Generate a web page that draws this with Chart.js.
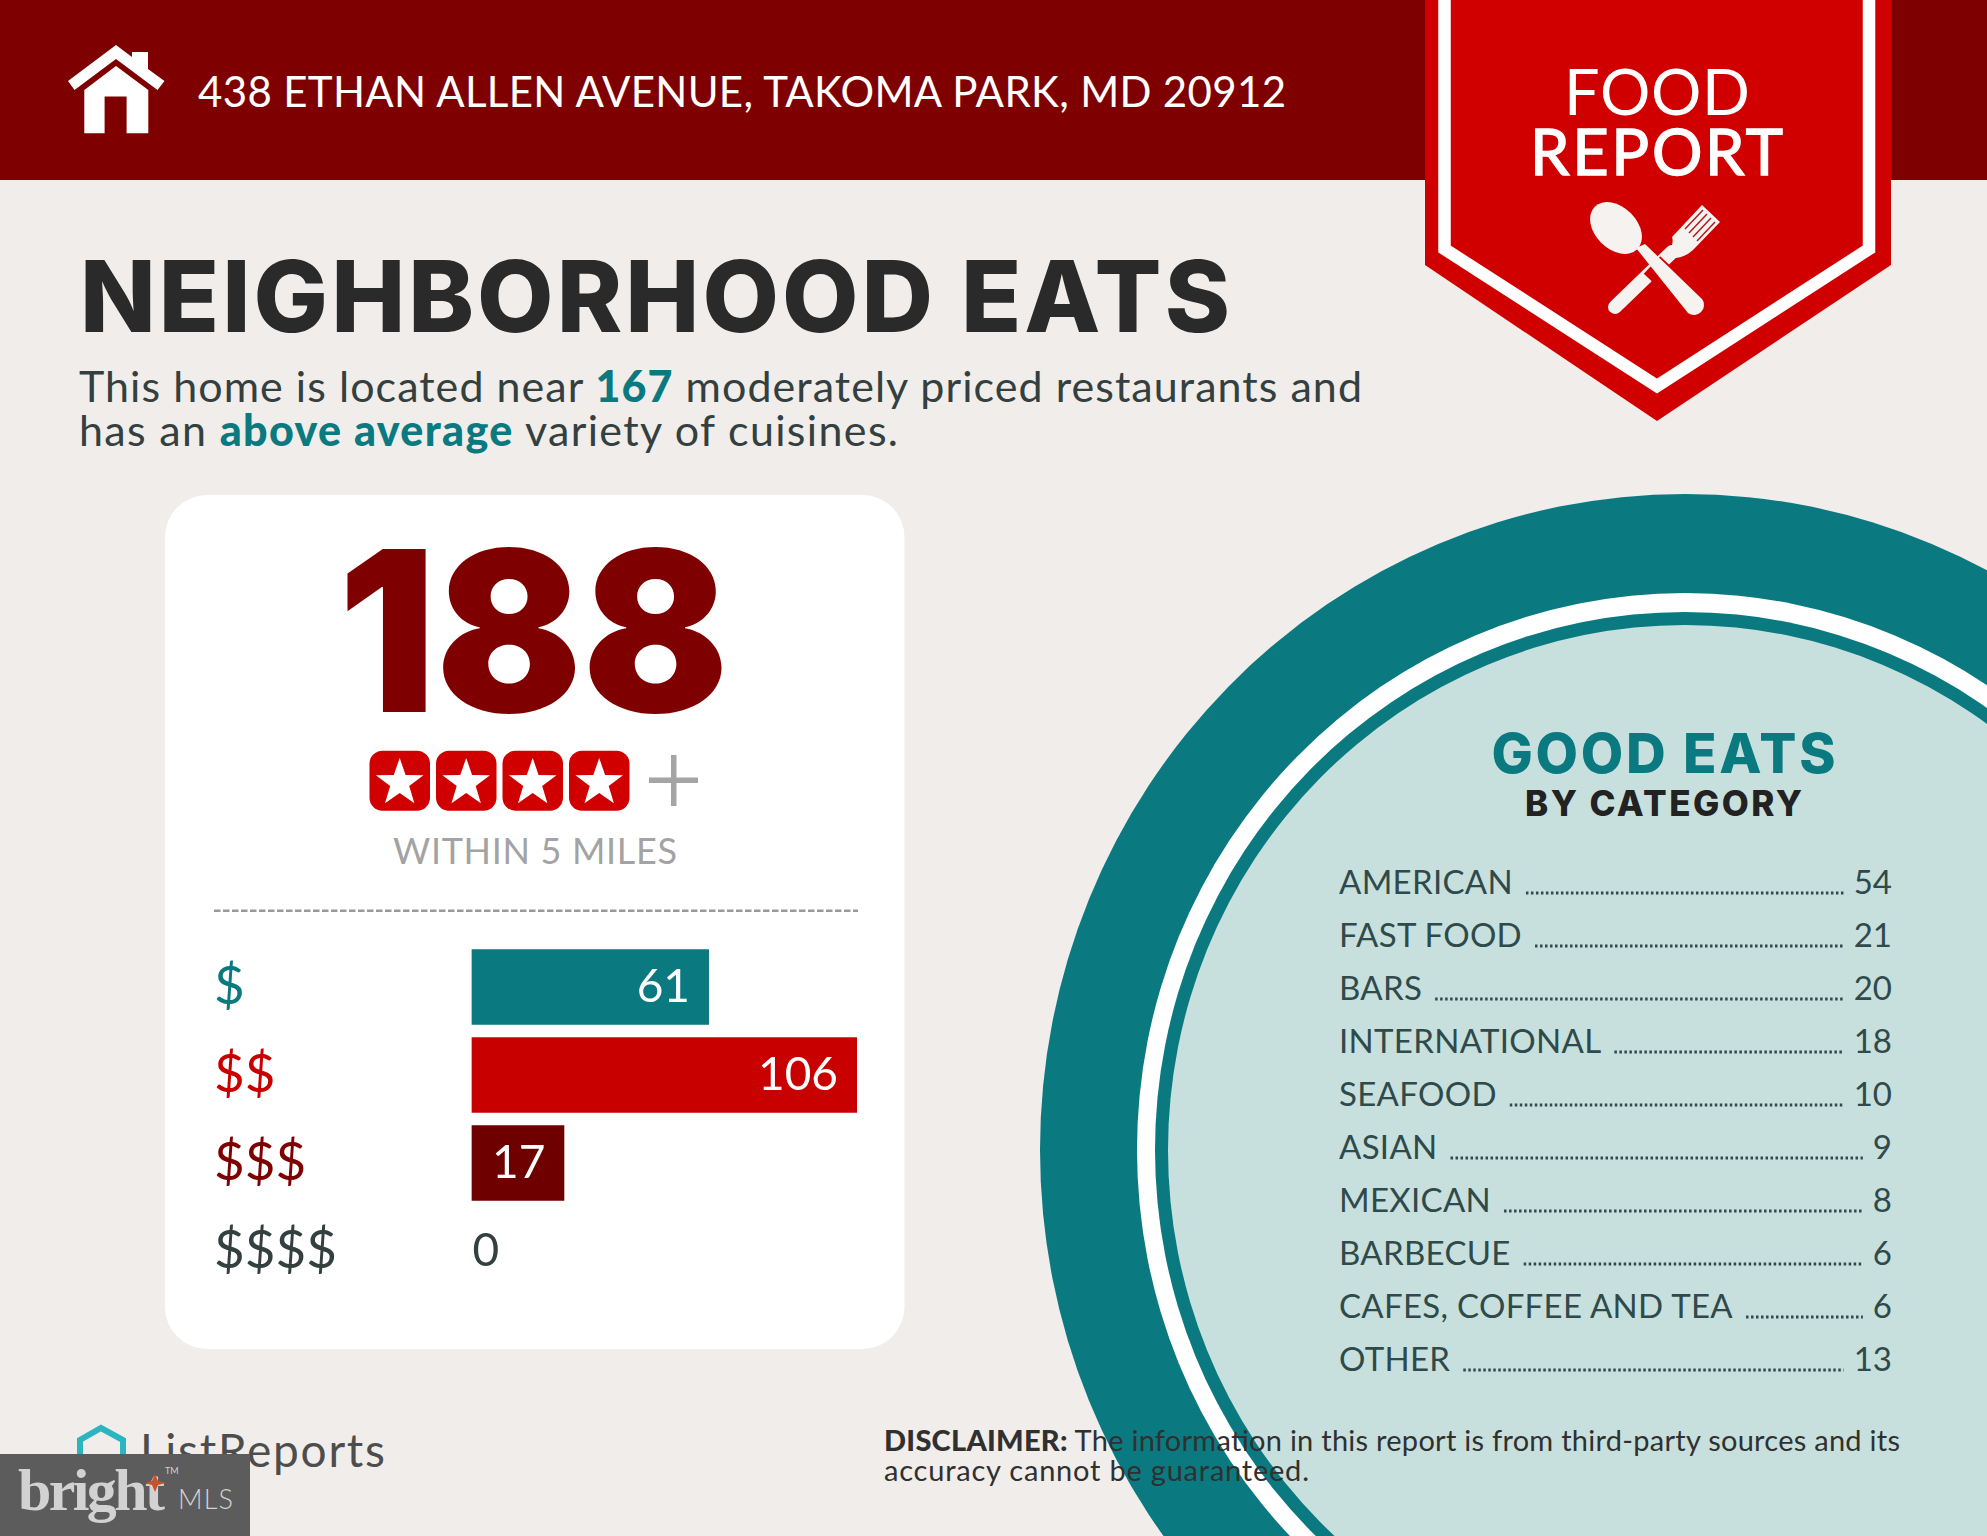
<!DOCTYPE html>
<html>
<head>
<meta charset="utf-8">
<title>Neighborhood Eats</title>
<script src="https://cdn.jsdelivr.net/npm/chart.js@4/dist/chart.umd.min.js"></script>
<style>
  html, body { margin: 0; padding: 0; background: #f1edea; }
  #page { position: relative; width: 1987px; height: 1536px; overflow: hidden; font-family: Lato, sans-serif; }
  #art { position: absolute; left: 0; top: 0; }
  #priceChart { position: absolute; left: 214px; top: 943px; }
  text { font-family: Lato, sans-serif; }
  text.heavy, tspan.heavy { font-family: Inter, Lato, sans-serif; font-weight: 800; }
</style>
</head>
<body>
<div id="page">
<svg id="art" width="1987" height="1536" viewBox="0 0 1987 1536" xmlns="http://www.w3.org/2000/svg">
  <rect width="1987" height="1536" fill="#f1edea"/>

  <!-- big circle -->
  <ellipse cx="1685" cy="1150" rx="645" ry="656" fill="#0a7a80"/>
  <ellipse cx="1685" cy="1150" rx="548" ry="557" fill="#ffffff"/>
  <ellipse cx="1685" cy="1150" rx="530" ry="538" fill="#0a7a80"/>
  <ellipse cx="1685" cy="1150" rx="517" ry="525" fill="#c8e0dd"/>

  <!-- header -->
  <rect width="1987" height="180" fill="#7f0000"/>
  <g fill="#ffffff">
    <path d="M116 45 L132 57 V52 H148 V69 L164.500 81 L157.500 90 L116 59 L74.500 90 L68 81 Z"/>
    <path d="M116 66 L148.300 90 V133.300 H126.600 V96.600 H104.600 V133.300 H84.300 V90 Z"/>
  </g>
  <text x="198" y="107" font-size="42" fill="#ffffff" textLength="1088">438 ETHAN ALLEN AVENUE, TAKOMA PARK, MD 20912</text>

  <!-- banner -->
  <polygon points="1425,0 1891,0 1891,265 1657,421 1425,265" fill="#d10000"/>
  <polyline points="1444.500,0 1444.500,249 1657,386 1869,249 1869,0" fill="none" stroke="#ffffff" stroke-width="12.500"/>
  <text x="1564" y="115" font-size="63" fill="#ffffff" textLength="186" font-weight="400">FOOD</text>
  <text x="1530" y="175" font-size="63" fill="#ffffff" textLength="253" font-weight="400" stroke="#ffffff" stroke-width="1.500">REPORT</text>
  <!-- fork -->
  <line x1="1615" y1="307" x2="1672" y2="252" stroke="#f6f2f0" stroke-width="14" stroke-linecap="round"/>
  <path d="M1664 258 Q1675 246 1672 237 L1702 205 L1720 222 L1693 250 Q1684 258 1674 258 Z" fill="#f6f2f0"/>
  <g stroke="#a8201f" stroke-width="1.500">
    <line x1="1685" y1="229" x2="1703" y2="210"/>
    <line x1="1689" y1="233" x2="1707" y2="214"/>
    <line x1="1693" y1="237" x2="1711" y2="218"/>
    <line x1="1697" y1="241" x2="1715" y2="222"/>
  </g>
  <!-- spoon -->
  <line x1="1652" y1="265" x2="1685" y2="296" stroke="#d10000" stroke-width="24"/>
  <ellipse cx="1616" cy="228" rx="30" ry="21" transform="rotate(45 1616 228)" fill="#f6f2f0"/>
  <path d="M1636 248 L1645 244 L1702 299 A10 10 0 0 1 1688 313 Z" fill="#f6f2f0"/>

  <!-- title -->
  <text class="heavy" x="80" y="332" font-size="99" fill="#2a2a2a" textLength="1150">NEIGHBORHOOD EATS</text>
  <text x="79" y="402" font-size="43" fill="#33403f" textLength="1283">This home is located near <tspan font-weight="900" fill="#0a7a80">167</tspan> moderately priced restaurants and</text>
  <text x="79" y="446" font-size="43" fill="#33403f" textLength="819">has an <tspan font-weight="900" fill="#0a7a80">above average</tspan> variety of cuisines.</text>

  <!-- white card -->
  <rect x="165" y="495" width="739.500" height="854" rx="42" fill="#ffffff"/>
  <text x="338" y="712" font-size="224" font-weight="900" fill="#7f0000" textLength="391" lengthAdjust="spacingAndGlyphs" style="font-family:Inter,Lato,sans-serif">188</text>
  <g id="stars"></g>
  <g fill="#a5a5a5">
    <rect x="649" y="777.500" width="49" height="5.500"/>
    <rect x="671" y="755" width="5.500" height="51"/>
  </g>
  <text x="393" y="864" font-size="36" fill="#a3a3a3" textLength="284">WITHIN 5 MILES</text>
  <line x1="214" y1="910.700" x2="858" y2="910.700" stroke="#999999" stroke-width="2.500" stroke-dasharray="6.500 2.500"/>

  <!-- category list -->
  <text class="heavy" x="1491.500" y="773" font-size="55" fill="#0a7a80" textLength="344">GOOD EATS</text>
  <text class="heavy" x="1525" y="816" font-size="35" fill="#222222" textLength="277">BY CATEGORY</text>
  <g id="foodList"></g>

  <!-- footer -->
  <path d="M80 1462 V1440 L101 1428 L123 1440 V1462" fill="none" stroke="#2bb5c0" stroke-width="6"/>
  <text x="140" y="1467" font-size="46" fill="#4d4d4d" textLength="245">ListReports</text>
  <text x="884" y="1451" font-size="29" fill="#303030" textLength="1016"><tspan font-weight="900">DISCLAIMER:</tspan> The information in this report is from third-party sources and its</text>
  <text x="884" y="1481" font-size="29" fill="#303030" textLength="425">accuracy cannot be guaranteed.</text>

  <rect x="0" y="1454" width="250" height="82" fill="#5c5c5c"/>
  <text x="18" y="1510" font-size="60" font-weight="700" fill="#d2d2d2" textLength="147" style="font-family:'Liberation Serif',serif">bright</text>
  <path d="M155 1474 L158 1481 L166 1483 L158 1485 L155 1492 L152 1485 L145 1483 L152 1481 Z" fill="#c9512c"/>
  <text x="165" y="1474" font-size="9" fill="#d2d2d2">TM</text>
  <text x="178" y="1509" font-size="27" font-weight="300" fill="#d2d2d2" textLength="55">MLS</text>
</svg>
<canvas id="priceChart" width="643" height="352"></canvas>
</div>

<script>
// chart data
const priceLabels = ['$', '$$', '$$$', '$$$$'];
const priceCounts = [61, 106, 17, 0];

const foodCategories = ['AMERICAN', 'FAST FOOD', 'BARS', 'INTERNATIONAL', 'SEAFOOD', 'ASIAN', 'MEXICAN', 'BARBECUE', 'CAFES, COFFEE AND TEA', 'OTHER'];
const foodCounts = [54, 21, 20, 18, 10, 9, 8, 6, 6, 13];

const SVG_NS = 'http://www.w3.org/2000/svg';

function svgEl(name, attrs, parent) {
  const el = document.createElementNS(SVG_NS, name);
  Object.keys(attrs).forEach(k => el.setAttribute(k, attrs[k]));
  parent.appendChild(el);
  return el;
}

// Four rating stars
function drawStars() {
  const group = document.getElementById('stars');
  [369.5, 436, 502.5, 569].forEach(x => {
    svgEl('rect', { x: x, y: 750.7, width: 60.5, height: 60, rx: 13, fill: '#d10000' }, group);
    const pts = [];
    for (let i = 0; i < 10; i++) {
      const r = i % 2 ? 10 : 25;
      const a = -Math.PI / 2 + i * Math.PI / 5;
      pts.push((x + 30.2 + r * Math.cos(a)).toFixed(1) + ',' + (783 + r * Math.sin(a)).toFixed(1));
    }
    svgEl('polygon', { points: pts.join(' '), fill: '#ffffff' }, group);
  });
}

// Category rows with dotted leaders
function drawFoodList() {
  const group = document.getElementById('foodList');
  const left = 1339, right = 1892, first = 894, pitch = 53;
  foodCategories.forEach((name, i) => {
    const y = first + i * pitch;
    const label = svgEl('text', { x: left, y: y, 'font-size': 33, 'letter-spacing': 0.3, fill: '#2f4a4a' }, group);
    label.textContent = name;
    const count = svgEl('text', { x: right, y: y, 'font-size': 33, fill: '#2f4a4a', 'text-anchor': 'end' }, group);
    count.textContent = foodCounts[i];
    const x1 = left + label.getComputedTextLength() + 13;
    const x2 = right - count.getComputedTextLength() - 10;
    svgEl('line', { x1: x1, y1: y - 1, x2: x2, y2: y - 1, stroke: '#2f4a4a', 'stroke-width': 3, 'stroke-dasharray': '2.5 2.5' }, group);
  });
}

// Value labels inside the bars
const barValueLabels = {
  id: 'barValueLabels',
  afterDatasetsDraw(chart) {
    const ctx = chart.ctx;
    const bars = chart.getDatasetMeta(0).data;
    ctx.save();
    ctx.font = '400 46px Lato';
    ctx.textBaseline = 'middle';
    bars.forEach((bar, i) => {
      const value = priceCounts[i];
      if (value === 0) {
        ctx.fillStyle = '#33403f';
        ctx.textAlign = 'left';
        ctx.fillText(value, chart.chartArea.left + 1, bar.y);
      } else {
        ctx.fillStyle = '#ffffff';
        ctx.textAlign = 'right';
        ctx.fillText(value, bar.x - 19, bar.y);
      }
    });
    ctx.restore();
  }
};

function drawPriceChart() {
  const tickColors = ['#0a7a80', '#c90000', '#7f0000', '#33403f'];
  const axisMin = -11.25; // the bars have a fixed stub before zero
  new Chart(document.getElementById('priceChart'), {
    type: 'bar',
    data: {
      labels: priceLabels,
      datasets: [{
        data: priceCounts,
        base: axisMin,
        backgroundColor: ['#0a7a80', '#c90000', '#6f0000', 'rgba(0,0,0,0)'],
        borderWidth: 0,
        categoryPercentage: 1,
        barPercentage: 0.86
      }]
    },
    options: {
      indexAxis: 'y',
      responsive: false,
      animation: false,
      layout: { padding: 0 },
      plugins: { legend: { display: false }, tooltip: { enabled: false } },
      scales: {
        x: { display: false, min: axisMin, max: 106 },
        y: {
          grid: { display: false },
          border: { display: false },
          afterFit: scale => {
            scale.width = 257.4;
            scale.paddingTop = 0;
            scale.paddingBottom = 0;
          },
          ticks: {
            crossAlign: 'far',
            padding: 0,
            color: ctx => tickColors[ctx.index],
            font: { family: 'Lato', size: 53, weight: '400' }
          }
        }
      }
    },
    plugins: [barValueLabels]
  });
}

drawStars();
drawFoodList();
drawPriceChart();
</script>
</body>
</html>
